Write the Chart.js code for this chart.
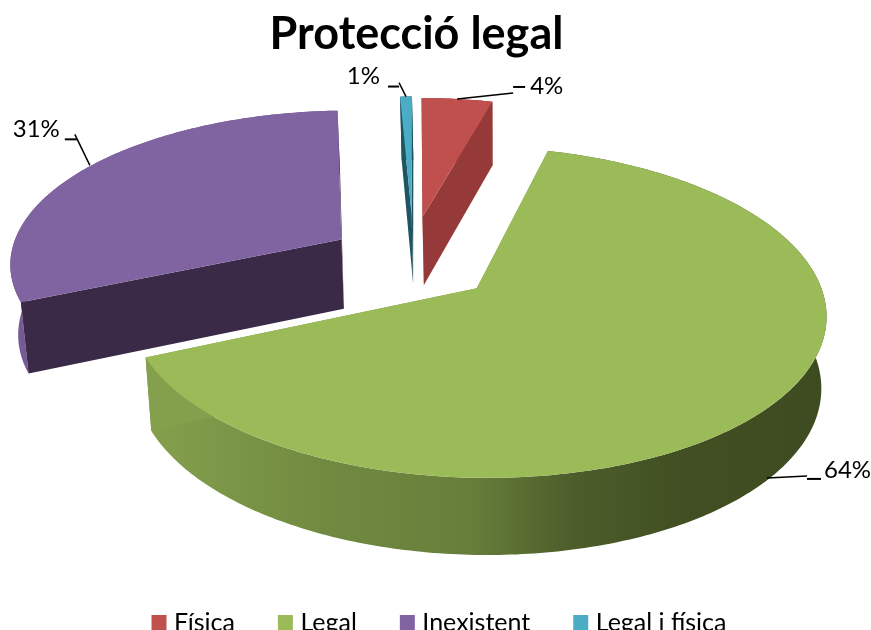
<!DOCTYPE html>
<html>
<head>
<meta charset="utf-8">
<style>
html, body { margin: 0; padding: 0; background: #fff; overflow: hidden; }
canvas { display: block; }
</style>
<script src="https://cdn.jsdelivr.net/npm/chart.js@4/dist/chart.umd.min.js"></script>
</head>
<body>
<canvas id="pie3d" width="871" height="645"></canvas>
<script>
var categories = ["Física", "Legal", "Inexistent", "Legal i física"];
var values = [4.2, 64.2, 30.9, 0.7];

var topColors = ["#C0504D", "#9BBB59", "#8064A2", "#4BACC6"];
var cutColors = ["#953A38", "#84A04C", "#3A2A48", "#1F5563"];
var wallStops = [
    [[0, "#953A38"], [1, "#953A38"]],
    [[0.17, "#84A04C"], [0.36, "#728B41"], [0.54, "#677E3B"], [0.66, "#4C5D2A"], [0.78, "#414F22"], [1, "#3D4A20"]],
    [[0, "#755A96"], [1, "#755A96"]],
    [[0, "#1F5563"], [1, "#1F5563"]]
];

// how far each slice is pulled out and its size, in pie radii
var sliceExplode = [0.315, 0.24, 0.25, 0.326];
var sliceNudge = [[-0.015, 0], [0, 0], [-0.008, -0.025], [0, 0]];
var sliceRadius = [0.945, 1, 0.99, 0.945];
var drawOrder = [2, 0, 3, 1];

// perspective of the pie plane
var view = { cx: 414, cy: 263.4, a: 337, b: 155, k: 0.142, depth: 70, depthK: 0.08, bottomShrink: 0.984, bottomCx: 500 };

// leader line and label, relative to the rim point at the middle of the slice
var leaders = [
    { dx: 0, dy: 0, bend: [56, -6], tick: [[56, -12], [68, -12]], text: [73, -13], align: "left" },
    { dx: -5, dy: 73, bend: [40, -2], tick: [[40, 1], [54, 1]], text: [57, -8], align: "left" },
    { dx: 2, dy: -2, bend: [-15, -31], tick: [[-25, -26], [-13, -26]], text: [-30, -36], align: "right" },
    { dx: 0, dy: 0, bend: [-7, -14], tick: [[-18, -10], [-7, -10]], text: [-26, -20], align: "right" }
];

function project(u, v) {
    var w = 1 - view.k * v;
    return { x: view.cx + view.a * u / w, y: view.cy + view.b * v / w, v: v };
}

function lower(p) {
    return {
        x: view.bottomCx + (p.x - view.bottomCx) * view.bottomShrink,
        y: p.y + view.depth / (1 - view.depthK * p.v)
    };
}

function slicePoints(el, i) {
    var mid = (el.startAngle + el.endAngle) / 2;
    var du = sliceExplode[i] * Math.cos(mid) + sliceNudge[i][0];
    var dv = sliceExplode[i] * Math.sin(mid) + sliceNudge[i][1];
    var rim = [];
    var steps = Math.max(2, Math.ceil((el.endAngle - el.startAngle) / 0.015));
    for (var s = 0; s <= steps; s++) {
        var t = el.startAngle + (el.endAngle - el.startAngle) * s / steps;
        rim.push(project(du + sliceRadius[i] * Math.cos(t), dv + sliceRadius[i] * Math.sin(t)));
    }
    return {
        apex: project(du, dv),
        rim: rim,
        mid: project(du + sliceRadius[i] * Math.cos(mid), dv + sliceRadius[i] * Math.sin(mid))
    };
}

function fillPoly(ctx, pts, color) {
    ctx.beginPath();
    pts.forEach(function (p, n) {
        if (n === 0) ctx.moveTo(p.x, p.y); else ctx.lineTo(p.x, p.y);
    });
    ctx.closePath();
    ctx.fillStyle = color;
    ctx.fill();
}

function drawSlice(ctx, el, i, width) {
    var g = slicePoints(el, i);
    var first = g.rim[0], last = g.rim[g.rim.length - 1];

    var grad = ctx.createLinearGradient(0, 0, width, 0);
    wallStops[i].forEach(function (s) { grad.addColorStop(s[0], s[1]); });
    var wall = g.rim.concat(g.rim.slice().reverse().map(lower));
    fillPoly(ctx, wall, grad);

    fillPoly(ctx, [g.apex, first, lower(first), lower(g.apex)], cutColors[i]);
    fillPoly(ctx, [g.apex, last, lower(last), lower(g.apex)], cutColors[i]);

    fillPoly(ctx, [g.apex].concat(g.rim), topColors[i]);
    return g;
}

function drawLeader(ctx, g, i) {
    var l = leaders[i];
    var ax = g.mid.x + l.dx, ay = g.mid.y + l.dy;
    ctx.strokeStyle = "#000";
    ctx.lineWidth = 1.5;
    ctx.beginPath();
    ctx.moveTo(ax, ay);
    ctx.lineTo(ax + l.bend[0], ay + l.bend[1]);
    ctx.stroke();
    ctx.lineWidth = 2;
    ctx.beginPath();
    ctx.moveTo(ax + l.tick[0][0], ay + l.tick[0][1]);
    ctx.lineTo(ax + l.tick[1][0], ay + l.tick[1][1]);
    ctx.stroke();
    ctx.fillStyle = "#000";
    ctx.font = "24px Lato";
    ctx.textAlign = l.align;
    ctx.textBaseline = "middle";
    ctx.fillText(Math.round(values[i]) + "%", ax + l.text[0], ay + l.text[1]);
}

var pie3d = {
    id: "pie3d",
    afterLayout: function (chart) {
        // title sits left of the canvas centre, legend a little right of it
        chart.titleBlock.left -= 38;
        chart.legend.left += 6;
        chart.legend.right += 6;
    },
    beforeDatasetDraw: function (chart, args) {
        var ctx = chart.ctx;
        var arcs = args.meta.data;
        var geom = [];
        ctx.save();
        drawOrder.forEach(function (i) {
            geom[i] = drawSlice(ctx, arcs[i], i, chart.width);
        });
        geom.forEach(function (g, i) { drawLeader(ctx, g, i); });
        ctx.restore();
        return false;
    }
};

new Chart(document.getElementById("pie3d"), {
    type: "pie",
    data: {
        labels: categories,
        datasets: [{ data: values, backgroundColor: topColors, borderWidth: 0 }]
    },
    options: {
        responsive: false,
        animation: false,
        plugins: {
            tooltip: { enabled: false },
            title: {
                display: true,
                text: "Protecció legal",
                color: "#000",
                font: { family: "Lato", size: 45, weight: "bold" },
                padding: { top: 7, bottom: 10 }
            },
            legend: {
                position: "bottom",
                labels: {
                    color: "#000",
                    font: { family: "Lato", size: 25 },
                    usePointStyle: true,
                    pointStyle: "rect",
                    boxWidth: 5,
                    boxHeight: 15,
                    padding: 48
                }
            }
        }
    },
    plugins: [pie3d]
});
</script>
</body>
</html>
